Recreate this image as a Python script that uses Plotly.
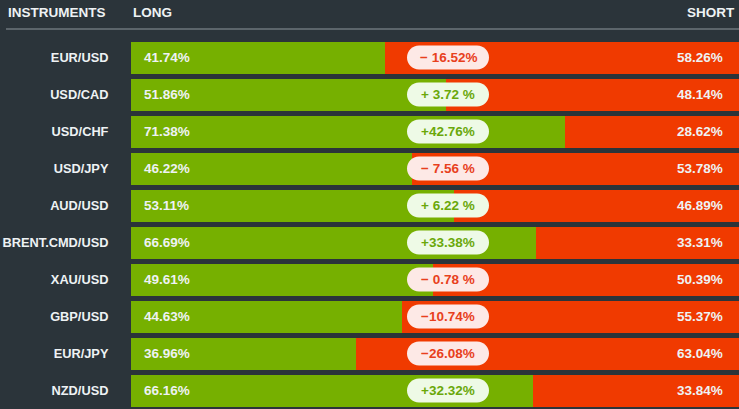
import plotly.graph_objects as go

instruments = ["EUR/USD", "USD/CAD", "USD/CHF", "USD/JPY", "AUD/USD",
               "BRENT.CMD/USD", "XAU/USD", "GBP/USD", "EUR/JPY", "NZD/USD"]
long_pct = [41.74, 51.86, 71.38, 46.22, 53.11, 66.69, 49.61, 44.63, 36.96, 66.16]
short_pct = [58.26, 48.14, 28.62, 53.78, 46.89, 33.31, 50.39, 55.37, 63.04, 33.84]
diff_labels = ["\u2212 16.52%", "+ 3.72 %", "+42.76%", "\u2212 7.56 %", "+ 6.22 %",
               "+33.38%", "\u2212 0.78 %", "\u221210.74%", "\u221226.08%", "+32.32%"]
diff_sign = [-1, 1, 1, -1, 1, 1, -1, -1, -1, 1]

BG = "#2b343a"
GREEN = "#76b000"
RED = "#f03a00"
TXT = "#eef2f4"
FONT = "Liberation Sans, Arial, sans-serif"

ypos = list(range(len(instruments)))

fig = go.Figure()
fig.add_trace(go.Bar(
    y=ypos, x=long_pct, orientation="h", marker=dict(color=GREEN, line=dict(width=0)),
    width=0.865, hoverinfo="skip",
))
fig.add_trace(go.Bar(
    y=ypos, x=short_pct, orientation="h", marker=dict(color=RED, line=dict(width=0)),
    width=0.865, hoverinfo="skip",
))

# pill shape path (pixels, relative to anchor)
hw, hh = 41, 12
k = 0.5523 * hh
cx = hw - hh
pill = (f"M {-cx},{-hh} L {cx},{-hh} C {cx+k},{-hh} {hw},{-k} {hw},0 "
        f"C {hw},{k} {cx+k},{hh} {cx},{hh} L {-cx},{hh} "
        f"C {-cx-k},{hh} {-hw},{k} {-hw},0 C {-hw},{-k} {-cx-k},{-hh} {-cx},{-hh} Z")
PILL_X = 52.14

for i, (lp, sp, dl, sg) in enumerate(zip(long_pct, short_pct, diff_labels, diff_sign)):
    fill = "#eefae6" if sg > 0 else "#fde9e6"
    tcol = "#6aa80a" if sg > 0 else "#e8401c"
    fig.add_shape(type="path", xref="x", yref="y", xsizemode="pixel", ysizemode="pixel",
                  xanchor=PILL_X, yanchor=i, path=pill, fillcolor=fill,
                  line=dict(width=0), layer="above")
    fig.add_annotation(x=PILL_X, y=i, xref="x", yref="y", text=f"<b>{dl}</b>",
                       showarrow=False, font=dict(family=FONT, size=13.5, color=tcol))
    fig.add_annotation(x=0, y=i, xref="x", yref="y", text=f"<b>{lp:.2f}%</b>",
                       showarrow=False, xanchor="left", xshift=11,
                       font=dict(family=FONT, size=13.5, color=TXT))
    fig.add_annotation(x=100, y=i, xref="x", yref="y", text=f"<b>{sp:.2f}%</b>",
                       showarrow=False, xanchor="right", xshift=-14,
                       font=dict(family=FONT, size=13.5, color=TXT))

fig.update_layout(
    width=739, height=409,
    margin=dict(l=131, r=0, t=39, b=0, autoexpand=False),
    paper_bgcolor=BG, plot_bgcolor=BG,
    barmode="stack", bargap=0, showlegend=False,
    xaxis=dict(range=[0, 100], visible=False, fixedrange=True, automargin=False),
    yaxis=dict(range=[9.5, -0.5], tickvals=ypos, ticktext=[f"<b>{s}</b>" for s in instruments],
               ticks="outside", ticklen=19, tickcolor=BG, showgrid=False, zeroline=False,
               showline=False, tickfont=dict(family=FONT, size=12.8, color=TXT),
               fixedrange=True, automargin=False),
)

# Header annotations in paper coordinates (computed from pixel positions)
W, H = 739, 409
pl, pt, ph = 131, 39, 370
def px2paper_x(px):
    return (px - pl) / (W - pl)
def py2paper_y(py):
    return (pt + ph - py) / ph

fig.add_annotation(x=px2paper_x(108), y=py2paper_y(12), xref="paper", yref="paper",
                   text="<b>INSTRUMENTS</b>", showarrow=False, xanchor="right", yanchor="middle",
                   font=dict(family=FONT, size=13.5, color=TXT))
fig.add_annotation(x=px2paper_x(131), y=py2paper_y(12), xref="paper", yref="paper",
                   text="<b>LONG</b>", showarrow=False, xanchor="left", yanchor="middle",
                   font=dict(family=FONT, size=13.5, color=TXT))
fig.add_annotation(x=px2paper_x(737), y=py2paper_y(12), xref="paper", yref="paper",
                   text="<b>SHORT</b>", showarrow=False, xanchor="right", yanchor="middle",
                   font=dict(family=FONT, size=13.5, color=TXT))
fig.add_shape(type="line", xref="paper", yref="paper",
              x0=px2paper_x(6), x1=1, y0=py2paper_y(29), y1=py2paper_y(29),
              line=dict(color="#8d969c", width=1.2))

fig.write_html("out.html")
